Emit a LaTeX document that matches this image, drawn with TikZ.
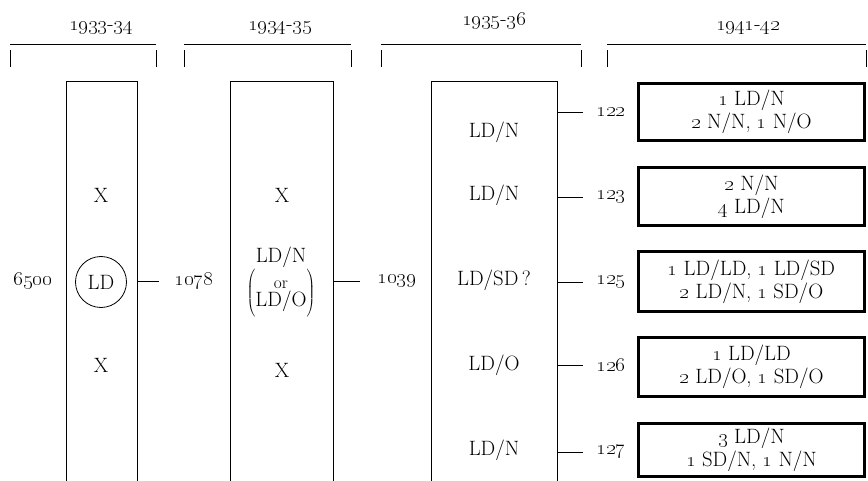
\documentclass[tikz,border=0pt]{standalone}
\newcommand\osn[1]{\oldstylenums{#1}}
\newcommand\chartfont{\fontsize{20.74}{23}\selectfont}
\begin{document}
\begin{tikzpicture}[x=1pt,y=-1pt,
  every node/.style={font=\chartfont,inner sep=0pt},
  yearrule/.style={line width=0.8pt},
  colline/.style={line width=1pt},
  tally/.style={draw,line width=3pt,minimum width=226pt,align=center},
  link/.style={line width=0.8pt,shorten >=#1}]
\useasboundingbox (0,0) rectangle (868,481);

% year headings
\node[anchor=base] (yA) at (101,31) {\osn{1933}-\osn{34}};
\node[anchor=base] (yB) at (280,31) {\osn{1934}-\osn{35}};
\node[anchor=base] (yC) at (494,26) {\osn{1935}-\osn{36}};
\node[anchor=base] (yD) at (748,31) {\osn{1941}-\osn{42}};
\foreach \l/\r in {10/156,184/351,381/581,607/866}{
  \draw[yearrule] (\l,44) -- (\r,44);
  \draw[yearrule] (\l,50) -- (\l,67) (\r,50) -- (\r,67);
}

% open columns
\foreach \l/\r/\n in {66/137/A,230/333/B,431/557/C}{
  \draw[colline] (\l,481) |- (\r,82) -- (\r,481);
  \coordinate (\n) at (\r,82);
}

% 1933-34
\node (n6500) at (33,281) {\osn{6500}};
\node (a1) at (101,195) {X};
\node[draw,circle,minimum size=51pt,line width=0.8pt] (a2) at (101,282) {LD};
\node (a3) at (101,365) {X};
\node (n1078) at (194,281) {\osn{1078}};
\draw[link=16pt] (A |- n1078) -- (n1078);

% 1934-35
\node (b1) at (282,195) {X};
\node (b2) at (281,257) {LD/N};
\node (b2x) at (281,294) {$\left(\vcenter{\hbox{\begin{tabular}{@{}c@{}}{\fontsize{17.28}{17}\selectfont or}\\[-5pt]LD/O\end{tabular}}}\vrule height 21pt depth 21pt width 0pt\right)$};
\node (b3) at (282,370) {X};
\node (n1039) at (397,281) {\osn{1039}};
\draw[link=18pt] (B |- n1039) -- (n1039);

% 1935-36
\foreach \t/\y/\k in {{LD/N}/132/1,{LD/N}/195/2,{LD/SD\,?}/280/3,{LD/O}/365/4,{LD/N}/450/5}
  \node (c\k) at (494,\y) {\t};
\foreach \m/\y in {122/112,123/197,125/282,126/365,127/452}{
  \node (n\m) at (611,\y) {\osn{\m}};
  \draw[link=13pt] (C |- n\m) -- (n\m);
}

% 1941-42
\node[tally,minimum height=57pt] (d1) at (751.5,112) {\osn{1} LD/N\\\osn{2} N/N, \osn{1} N/O};
\node[tally,minimum height=58pt] (d2) at (751.5,196.5) {\osn{2} N/N\\\osn{4} LD/N};
\node[tally,minimum height=60pt] (d3) at (751.5,281.5) {\osn{1} LD/LD, \osn{1} LD/SD\\\osn{2} LD/N, \osn{1} SD/O};
\node[tally,minimum height=59pt] (d4) at (751.5,367) {\osn{1} LD/LD\\\osn{2} LD/O, \osn{1} SD/O};
\node[tally,minimum height=53pt] (d5) at (751.5,450) {\osn{3} LD/N\\\osn{1} SD/N, \osn{1} N/N};
\end{tikzpicture}
\end{document}
